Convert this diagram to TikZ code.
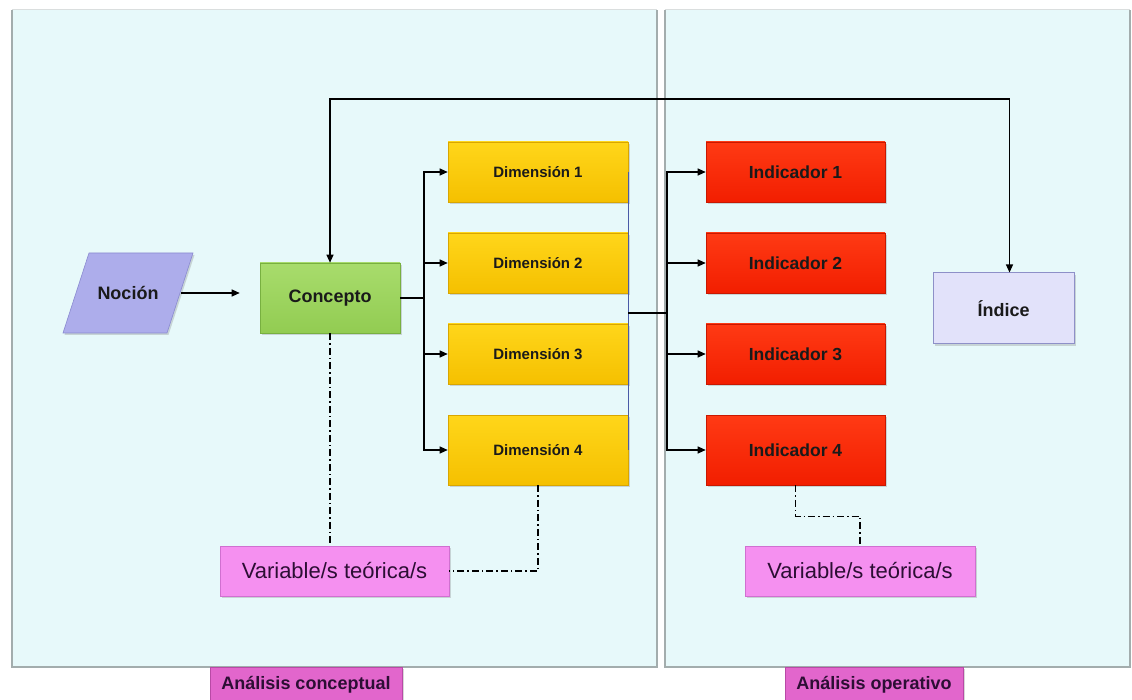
\documentclass[tikz,border=0pt]{standalone}
\usepackage{fontspec}
\setmainfont{Liberation Sans}
\usetikzlibrary{shadows,arrows.meta,calc}

\definecolor{panelc}{HTML}{E7F9FA}
\definecolor{paneledge}{HTML}{A3ADAD}
\definecolor{dimtop}{HTML}{FFD61A}
\definecolor{dimbot}{HTML}{F5C000}
\definecolor{dimedge}{HTML}{D9A600}
\definecolor{indtop}{HTML}{FF3A14}
\definecolor{indbot}{HTML}{F21E00}
\definecolor{indedge}{HTML}{C91800}
\definecolor{contop}{HTML}{A8DC6C}
\definecolor{conbot}{HTML}{92CC52}
\definecolor{conedge}{HTML}{78B040}
\definecolor{noccol}{HTML}{ADADEB}
\definecolor{nocedge}{HTML}{8A8AD0}
\definecolor{idxcol}{HTML}{E2E2FA}
\definecolor{idxedge}{HTML}{8E90C8}
\definecolor{varcol}{HTML}{F590F0}
\definecolor{varedge}{HTML}{D070D0}
\definecolor{labcol}{HTML}{E266CC}
\definecolor{labedge}{HTML}{B84AA6}
\definecolor{txtdark}{HTML}{1A1A1A}
\definecolor{txtvar}{HTML}{2C0E34}
\definecolor{bluelink}{HTML}{4A5AA8}

\tikzset{
  panelbox/.style={fill=panelc, inner sep=0pt},
  panelline/.style={draw=paneledge, line width=1.6pt},
  boxbase/.style={rectangle, inner sep=0pt, line width=0.6pt,
    drop shadow={shadow xshift=1.5pt, shadow yshift=-2pt, opacity=0.3}},
  dimbox/.style={boxbase, draw=dimedge, top color=dimtop, bottom color=dimbot,
    minimum width=180pt, minimum height=60pt, font=\bfseries\fontsize{15}{17}\selectfont, text=txtdark},
  indbox/.style={boxbase, draw=indedge, top color=indtop, bottom color=indbot,
    minimum width=179pt, minimum height=60pt, font=\bfseries\fontsize{17.5}{19}\selectfont, text=txtdark},
  conbox/.style={boxbase, draw=conedge, top color=contop, bottom color=conbot,
    minimum width=140pt, minimum height=70pt, font=\bfseries\fontsize{18}{20}\selectfont, text=txtdark},
  noctext/.style={rectangle, inner sep=0pt, minimum width=106pt, minimum height=79pt,
    font=\bfseries\fontsize{18}{20}\selectfont, text=txtdark},
  nocshape/.style={draw=nocedge, fill=noccol, line width=0.6pt,
    drop shadow={shadow xshift=1.5pt, shadow yshift=-2pt, opacity=0.3}},
  idxbox/.style={boxbase, draw=idxedge, line width=1pt, fill=idxcol,
    minimum width=141pt, minimum height=71pt, font=\bfseries\fontsize{18}{20}\selectfont, text=txtdark},
  varbox/.style={boxbase, draw=varedge, fill=varcol,
    minimum width=229pt, minimum height=50pt, font=\fontsize{22}{24}\selectfont, text=txtvar},
  labbox/.style={boxbase, draw=labedge, fill=labcol,
    minimum height=36pt, font=\bfseries\fontsize{18}{20}\selectfont, text=txtvar},
  arr/.style={line width=1.2pt, draw=black, -{Triangle[length=8pt,width=7pt]}},
  link/.style={line width=1.2pt, draw=black},
  dashdot/.style={line width=1.1pt, draw=black, dash pattern=on 7pt off 3pt on 1.5pt off 3pt}
}

\begin{document}
\begin{tikzpicture}[x=1pt,y=-1pt]
\useasboundingbox (0,0) rectangle (1132,700);
\fill[white] (0,0) rectangle (1132,700);

% panels
\node[panelbox, minimum width=645pt, minimum height=657pt] (panelL) at (334.5,338.5) {};
\node[panelbox, minimum width=465pt, minimum height=657pt] (panelR) at (897.5,338.5) {};
\draw[panelline] (panelL.north west) -- (panelL.south west) -- (panelL.south east) -- (panelL.north east);
\draw[panelline] (panelR.north west) -- (panelR.south west) -- (panelR.south east) -- (panelR.north east);
\draw[paneledge!40, line width=0.8pt] (panelL.north west) -- (panelL.north east);
\draw[paneledge!40, line width=0.8pt] (panelR.north west) -- (panelR.north east);

% bottom labels
\node[labbox, minimum width=192pt] (labL) at (306,685) {Análisis conceptual};
\node[labbox, minimum width=178pt] (labR) at (874,685) {Análisis operativo};

% main nodes
\path[nocshape] (89,253) -- (193,253) -- (167,333) -- (63,333) -- cycle;
\node[noctext] (noc) at (128,293) {Noción};
\node[conbox] (con) at (330,298) {Concepto};

\node[dimbox] (d1) at (538,172) {Dimensión 1};
\node[dimbox] (d2) at (538,263) {Dimensión 2};
\node[dimbox] (d3) at (538,354) {Dimensión 3};
\node[dimbox, minimum height=70pt] (d4) at (538,450) {Dimensión 4};

\node[indbox] (i1) at (795.5,172) {Indicador 1};
\node[indbox] (i2) at (795.5,263) {Indicador 2};
\node[indbox] (i3) at (795.5,354) {Indicador 3};
\node[indbox, minimum height=70pt] (i4) at (795.5,450) {Indicador 4};

\node[idxbox] (idx) at (1003.5,308.5) {Índice};

\node[varbox] (vl) at (334.5,571) {Variable/s teórica/s};
\node[varbox, minimum width=230pt] (vr) at (860,571) {Variable/s teórica/s};

% junction coordinates
\coordinate (top) at (670,99);
\coordinate (jc) at (424,298);
\coordinate (jd) at (628,313);
\coordinate (ji) at (667,313);
\coordinate (idxin) at ($(idx.north)+(6,0)$);

% connectors
\draw[arr, shorten >=20pt] (noc.east) -- (noc.east -| con.west);
\draw[link, {Triangle[length=8pt,width=7pt]}-{Triangle[length=8pt,width=7pt]}] (con.north) |- (top) -| (idxin);

\draw[link] (con.east) -- (jc);
\draw[arr] (jc) |- (d1.west);
\draw[arr] (jc) |- (d2.west);
\draw[arr] (jc) |- (d3.west);
\draw[arr] (jc) |- (d4.west);

\draw[bluelink, line width=0.8pt] (d1.east) -- (d4.east);
\draw[link] (jd) -- (ji);
\draw[arr] (ji) |- (i1.west);
\draw[arr] (ji) |- (i2.west);
\draw[arr] (ji) |- (i3.west);
\draw[arr] (ji) |- (i4.west);

% dash-dot relations
\draw[dashdot] (con.south) -- (con.south |- vl.north);
\draw[dashdot] (d4.south) |- (vl.east);
\draw[dashdot] (i4.south) -- ++(0,31) -| (vr.north);
\end{tikzpicture}
\end{document}
